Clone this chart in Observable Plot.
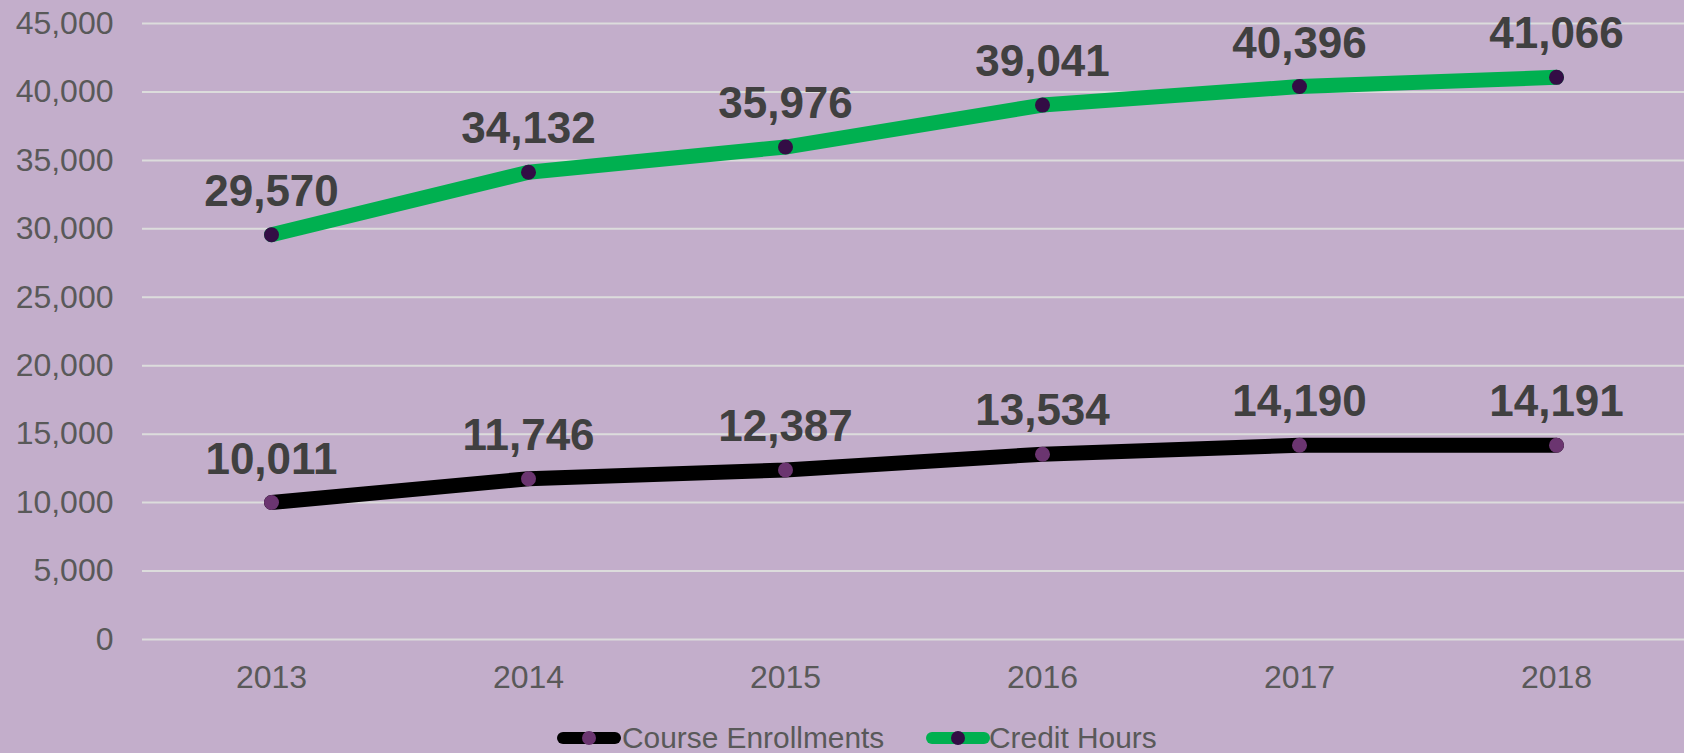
<!DOCTYPE html>
<html>
<head>
<meta charset="utf-8">
<script src="https://cdn.jsdelivr.net/npm/d3@7"></script>
<script src="https://cdn.jsdelivr.net/npm/@observablehq/plot@0.6"></script>
<style>
  html, body { margin: 0; padding: 0; background: #c3aecb; width: 1684px; height: 753px; overflow: hidden; }
  #chart { position: absolute; left: 0; top: 0; }
  #legend { position: absolute; left: 0; top: 712px; width: 1684px; height: 41px;
    font-family: "Liberation Sans", Arial, sans-serif; font-size: 29px; color: #595959; }
  .sw { position: absolute; top: 16px; display: block; }
  .lab { position: absolute; top: 9px; white-space: nowrap; transform: scaleX(1.03); transform-origin: 0 50%; line-height: 34px; }
</style>
</head>
<body>
<div id="chart"></div>
<div id="legend"></div>
<script>
const years = ["2013", "2014", "2015", "2016", "2017", "2018"];
const courseEnrollments = [10011, 11746, 12387, 13534, 14190, 14191];
const creditHours = [29570, 34132, 35976, 39041, 40396, 41066];
const yTicks = [0, 5000, 10000, 15000, 20000, 25000, 30000, 35000, 40000, 45000];
const seriesNames = ["Course Enrollments", "Credit Hours"];
const lineColors = ["#000000", "#00b050"];
const dotColors = ["#6b3570", "#330d45"];

const rows = [];
years.forEach((y, i) => {
  rows.push({year: y, value: courseEnrollments[i], series: seriesNames[0]});
  rows.push({year: y, value: creditHours[i], series: seriesNames[1]});
});

const fmt = d3.format(",");
const plot = Plot.plot({
  width: 1684,
  height: 712,
  marginLeft: 142,
  marginRight: 0,
  marginTop: 23,
  marginBottom: 73,
  style: { background: "transparent", fontFamily: "'Liberation Sans', Arial, sans-serif" },
  x: { type: "point", domain: years, padding: 0.5, label: null },
  y: { domain: [0, 45000], label: null },
  marks: [
    Plot.gridY(yTicks, { stroke: "#dcdcdc", strokeOpacity: 1, strokeWidth: 2 }),
    Plot.axisY(yTicks, { tickFormat: fmt, tickSize: 0, tickPadding: 29, fontSize: 32, fill: "#595959", label: null }),
    Plot.axisX({ tickSize: 0, tickPadding: 26, fontSize: 32, fill: "#595959", label: null }),
    Plot.line(rows, { x: "year", y: "value", z: "series",
      stroke: d => lineColors[seriesNames.indexOf(d.series)], strokeWidth: 15, strokeLinecap: "round", strokeLinejoin: "round" }),
    Plot.dot(rows, { x: "year", y: "value",
      fill: d => dotColors[seriesNames.indexOf(d.series)], r: 7.5, stroke: "none" }),
    Plot.text(rows, { x: "year", y: "value", text: d => fmt(d.value), dy: -43,
      fontSize: 44, fontWeight: "bold", fill: "#404040" })
  ]
});
document.getElementById("chart").appendChild(plot);

const legend = document.getElementById("legend");
const swatchX = [557, 926];
const labelX = [622, 989];
seriesNames.forEach((name, i) => {
  const sw = document.createElementNS("http://www.w3.org/2000/svg", "svg");
  sw.setAttribute("class", "sw");
  sw.setAttribute("width", 64);
  sw.setAttribute("height", 20);
  sw.style.left = swatchX[i] + "px";
  sw.innerHTML = `<line x1="6" y1="10" x2="58" y2="10" stroke="${lineColors[i]}" stroke-width="12" stroke-linecap="round"/><circle cx="32" cy="10" r="7" fill="${dotColors[i]}"/>`;
  legend.appendChild(sw);
  const lab = document.createElement("span");
  lab.className = "lab";
  lab.style.left = labelX[i] + "px";
  lab.textContent = name;
  legend.appendChild(lab);
});
</script>
</body>
</html>
